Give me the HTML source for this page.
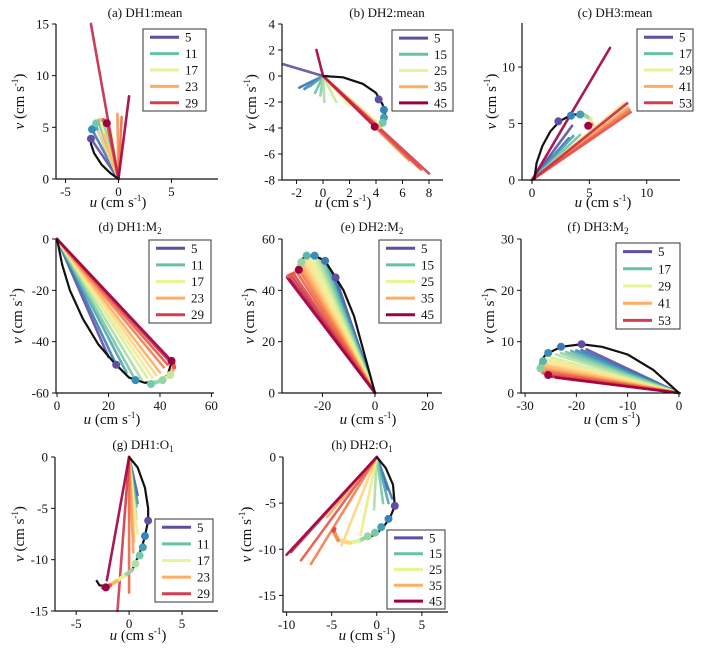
<!DOCTYPE html>
<html><head><meta charset="utf-8">
<style>
html,body{margin:0;padding:0;background:#fff;}
svg{display:block;font-family:"Liberation Serif",serif;}
</style></head>
<body>
<svg id="fig" width="715" height="653" viewBox="0 0 715 653" xmlns="http://www.w3.org/2000/svg"></svg>
<script>
// ---------- data ----------
const aTipU=[-2.6,-2.5,-2.2,-1.9,-1.5,-1.0,-0.7,-1.6,-1.9,-1.4,-0.1,0.3,-1.1,-2.6,1.0];
const aTipV=[3.9,4.8,5.3,5.6,5.7,5.2,4.6,5.2,4.6,4.3,6.3,6.0,5.4,15,8];
const aCurve=[[0,0],[-0.8,0.6],[-1.6,1.4],[-2.3,2.5],[-2.6,3.4],[-2.6,3.9]];
const aTrail=[[-2.6,4.8],[-2.2,5.4],[-1.8,5.7],[-1.4,5.7],[-1.1,5.4]];
const aDots=[[-2.6,3.9,0],[-2.5,4.8,0.12],[-2.1,5.4,0.25],[-1.1,5.4,1]];
const aLegend=["5","11","17","23","29"];

const bTipU=[-3,-1.8,-1.4,-1.0,-0.6,-0.2,0.1,1.0,2.0,3.3,4.0,4.3,6.2,6.5,7.2,7.4,8.0,3.9,-0.5];
const bTipV=[0.9,-0.9,-1.0,-0.8,-1.3,-1.5,-2.0,-2.0,-2.3,-3.0,-3.5,-3.9,-6.2,-6.5,-7.0,-7.2,-7.5,-3.9,2.0];
const bCurve=[[0,0],[1.5,-0.1],[3,-0.6],[4,-1.3],[4.5,-2.2],[4.7,-3.0]];
const bTrail=[[4.6,-3.2],[4.5,-3.6],[4.3,-3.9],[4.0,-4.0],[3.9,-3.9]];
const bDots=[[4.2,-1.8,0],[4.6,-2.6,0.1],[4.6,-3.2,0.15],[4.5,-3.6,0.25],[3.9,-3.9,1]];
const bLegend=["5","15","25","35","45"];

const cTipU=[3.5,3.2,3.6,4.2,5.5,6.5,7.5,8.0,8.3,8.4,8.5,8.6,8.3,6.8];
const cTipV=[4.8,3.7,3.9,4.0,4.5,5.3,6.2,6.8,6.7,6.4,6.2,6.0,6.8,11.7];
const cCurve=[[0.2,0],[0.4,1.5],[0.9,3],[1.6,4.3],[2.4,5.2],[3.5,5.8],[4.5,5.8]];
const cTrail=[[4.5,5.8],[5.1,5.4],[5.2,4.9],[4.9,4.8]];
const cDots=[[2.3,5.2,0],[3.4,5.7,0.1],[4.2,5.8,0.15],[4.9,4.8,1]];
const cLegend=["5","17","29","41","53"];

const dTipU=[20,23,27,30.5,33,35,37,38.5,40,41.5,43,44,44.5];
const dTipV=[-46,-49,-52,-55,-55,-54,-54,-53,-52,-50,-49,-48,-47.5];
const dCurve=[[0,0],[2,-10],[5,-20],[10,-31],[16,-41],[22,-48],[28,-54],[34,-56],[40,-55.5],[43,-53],[44.5,-48]];
const dTrail=[[36.5,-56.5],[41,-55],[44,-53],[45.5,-50],[45,-47.5]];
const dDots=[[23,-49,0],[30.5,-55,0.12],[36.5,-56.5,0.25],[41,-55,0.3],[44,-53,0.38],[44.5,-47.5,1]];
const dLegend=["5","11","17","23","29"];

const eTipU=[-15,-16,-17,-18,-19,-20,-21,-22,-23,-24,-25,-26,-27,-28,-28.5,-29,-29.5,-30,-31,-32,-33,-33.5];
const eTipV=[45,46.5,48,49.5,51,52,52.5,53,53.5,53.5,53.5,53,52.5,52,51,50,49,47.5,46.5,46,45.5,45];
const eCurve=[[0,0],[-4,15],[-8,30],[-12,40],[-15,45],[-19,51.5],[-23,53.5],[-26,53.5],[-28,52],[-29,50],[-29,48]];
const eTrail=[[-28,51],[-29,49],[-30,47.5],[-31,46.5],[-33,45.5]];
const eDots=[[-15,45,0],[-19,51.5,0.08],[-23,53.5,0.12],[-26,53.5,0.2],[-28,51,0.3],[-29,48,1]];
const eLegend=["5","15","25","35","45"];

const fTipU=[-18,-19,-20,-21,-22,-23,-24,-25,-25.5,-26,-26.5,-26.5,-26.5,-26,-25.5,-25.5,-25,-24];
const fTipV=[8.5,8.4,8.3,8.2,8,7.8,7.5,7,6.6,6.3,5.8,5.3,4.8,4.3,3.9,3.5,3.2,3.0];
const fCurve=[[0,0],[-5,4.5],[-10,7.5],[-15,9],[-19,9.5],[-23,9],[-26,7.5],[-27,6],[-27,4.5],[-26,3.5]];
const fTrail=[[-26.5,6.2],[-27,4.8],[-26.5,4],[-25.5,3.5]];
const fDots=[[-19,9.5,0],[-23,9,0.08],[-25.5,7.8,0.12],[-26.5,6.2,0.2],[-27,4.8,0.28],[-25.5,3.5,1]];
const fLegend=["5","17","29","41","53"];

const gTipU=[0.8,0.8,0.7,0.7,0.6,0.8,0.5,0.4,0.0,-1.1,-2.1];
const gTipV=[-3.7,-4.5,-4.8,-6.0,-6.5,-7.5,-8.3,-9.3,-13.2,-15,-12];
const gCurve=[[0,0],[0.8,-1],[1.5,-3],[1.8,-5],[1.8,-6.2],[1.5,-7.7],[1.2,-8.8],[0.8,-9.8],[0.3,-11],[-1,-12],[-2,-12.6],[-2.8,-12.5],[-3.1,-12]];
const gTrail=[[0.3,-11],[-0.5,-11.6],[-1.2,-12.1],[-1.8,-12.5],[-2.5,-12.7]];
const gDots=[[1.8,-6.2,0],[1.5,-7.7,0.1],[1.3,-8.8,0.15],[1.0,-9.6,0.25],[0.6,-10.4,0.35],[-2.2,-12.7,1]];
const gLegend=["5","11","17","23","29"];

const hTipU=[1.2,1.7,1.3,0.7,-0.3,-1.5,-1.8,-3.9,-5.5,-7.3,-8.4,-9.5,-10];
const hTipV=[-3.5,-4.5,-5.0,-5.0,-5.7,-7.0,-8.5,-9.6,-6.5,-11.6,-11.2,-10.3,-10.6];
const hCurve=[[0,0],[1,-1.2],[1.8,-3],[2,-5.3],[1.5,-6.5],[0.8,-7.5],[0,-8.3],[-1,-8.8]];
const hTrail=[[-1,-8.6],[-2,-9.1],[-3,-9.3],[-4.3,-9],[-4.8,-8],[-4.7,-7.8]];
const hDots=[[2,-5.3,0],[1.3,-6.7,0.1],[0.5,-7.6,0.15],[-0.2,-8.2,0.25],[-1,-8.6,0.3]];
const hLegend=["5","15","25","35","45"];

// ---------- rendering ----------
const NS="http://www.w3.org/2000/svg";
const svg=document.getElementById('fig');
const STOPS=['#5e4fa2','#3288bd','#66c2a5','#abdda4','#e6f598','#fee08b','#fdae61','#f46d43','#d53e4f','#9e0142'];
function hex(c){return [1,3,5].map(i=>parseInt(c.substr(i,2),16));}
function cmap(t){t=Math.max(0,Math.min(1,t));const p=t*(STOPS.length-1);const i=Math.min(Math.floor(p),STOPS.length-2);const f=p-i;const a=hex(STOPS[i]),b=hex(STOPS[i+1]);return 'rgb('+a.map((v,k)=>Math.round(v+(b[k]-v)*f)).join(',')+')';}
function mk(tag,attrs,parent){const e=document.createElementNS(NS,tag);for(const k in attrs)e.setAttribute(k,attrs[k]);(parent||svg).appendChild(e);return e;}

function panel(cfg){
  const g=mk('g',{});
  
  
  const sx=u=>cfg.L+(u-cfg.x0)/(cfg.x1-cfg.x0)*(cfg.R-cfg.L);
  const sy=v=>cfg.B-(v-cfg.y0)/(cfg.y1-cfg.y0)*(cfg.B-cfg.T);
  // title
  const t=mk('text',{x:cfg.tx,y:cfg.ty,'text-anchor':'middle','font-size':13,fill:'#111'},g);
  
  
  t.innerHTML=cfg.title;
  // fan lines
  const n=cfg.tu.length;
  for(let i=0;i<n;i++){
    const ln=mk('line',{x1:sx(0),y1:sy(0),x2:sx(cfg.tu[i]),y2:sy(cfg.tv[i]),stroke:cmap(n>1?i/(n-1):0),'stroke-width':2.6,'stroke-opacity':0.9,'stroke-linecap':'round'},g);
    
    
  }
  // black curve
  const pc=mk('polyline',{points:cfg.curve.map(p=>sx(p[0])+','+sy(p[1])).join(' '),fill:'none',stroke:'#111','stroke-width':2.2,'stroke-linejoin':'round'},g);
  
  
  // colored trail
  for(let i=0;i<cfg.trail.length-1;i++){
    const a=cfg.trail[i],b=cfg.trail[i+1];
    const tr=mk('line',{x1:sx(a[0]),y1:sy(a[1]),x2:sx(b[0]),y2:sy(b[1]),stroke:cmap(0.3+0.7*i/(cfg.trail.length-1)),'stroke-width':4,'stroke-linecap':'round'},g);
    
    
  }
  // dots
  cfg.dots.forEach(d=>{
    const c=mk('circle',{cx:sx(d[0]),cy:sy(d[1]),r:4,fill:cmap(d[2])},g);
    
    
  });
  // axes
  const ax=mk('path',{d:`M${cfg.L},${cfg.T}V${cfg.B}H${cfg.R}`,fill:'none',stroke:'#111','stroke-width':1.2},g);
  
  
  cfg.xt.forEach(v=>{
    const x=sx(v);
    const tk=mk('line',{x1:x,y1:cfg.B,x2:x,y2:cfg.B+4,stroke:'#111'},g);
    
    
    const tl=mk('text',{x:x,y:cfg.B+17,'text-anchor':'middle','font-size':13,fill:'#111'},g);
    
    
    tl.textContent=v;
  });
  cfg.yt.forEach(v=>{
    const y=sy(v);
    const tk=mk('line',{x1:cfg.L-4,y1:y,x2:cfg.L,y2:y,stroke:'#111'},g);
    
    
    const tl=mk('text',{x:cfg.L-7,y:y+4.5,'text-anchor':'end','font-size':13,fill:'#111'},g);
    
    
    tl.textContent=v;
  });
  const xl=mk('text',{x:cfg.xlx,y:cfg.xly,'text-anchor':'middle','font-size':15,fill:'#111'},g);
  
  
  xl.innerHTML='<tspan font-style="italic">u</tspan> (cm s<tspan dy="-6" font-size="9">-1</tspan><tspan dy="6">)</tspan>';
  const yl=mk('text',{x:0,y:0,'text-anchor':'middle','font-size':15,fill:'#111',transform:`translate(${cfg.ylx},${(cfg.T+cfg.B)/2}) rotate(-90)`},g);
  
  
  yl.innerHTML='<tspan font-style="italic">v</tspan> (cm s<tspan dy="-6" font-size="9">-1</tspan><tspan dy="6">)</tspan>';
  // legend
  const lg=mk('g',{},g);
  
  
  const [lx0,ly0,lx1,ly1]=cfg.leg;
  mk('rect',{x:lx0,y:ly0,width:lx1-lx0,height:ly1-ly0,fill:'#fff',stroke:'#333','stroke-width':1},lg);
  const cols=['#5e4fa2','#66c2a5','#e6f598','#fdae61',cfg.last];
  const step=(ly1-ly0)/5;
  cfg.legend.forEach((lab,i)=>{
    const y=ly0+step*(i+0.5);
    const e=mk('g',{},lg);
    
    
    mk('line',{x1:lx0+7,y1:y,x2:lx0+36,y2:y,stroke:cols[i],'stroke-width':3},e);
    const tx=mk('text',{x:lx0+42,y:y+4.5,'font-size':13,fill:'#111'},e);
    tx.textContent=lab;
  });
}

const M2='M<tspan font-size="9" dy="3">2</tspan>';
const O1='O<tspan font-size="9" dy="3">1</tspan>';
panel({id:'a',L:56,R:218,T:24,B:179,x0:-5.9,x1:9.4,y0:0,y1:15,xt:[-5,0,5],yt:[0,5,10,15],tu:aTipU,tv:aTipV,curve:aCurve,trail:aTrail,dots:aDots,legend:aLegend,last:'#d53e4f',leg:[143,29,206,111],title:'(a) DH1:mean',tx:145,ty:17,xlx:118,xly:207,ylx:24});
panel({id:'b',L:282,R:443,T:24,B:180,x0:-3.1,x1:9.06,y0:-8,y1:4,xt:[-2,0,2,4,6,8],yt:[-8,-6,-4,-2,0,2,4],tu:bTipU,tv:bTipV,curve:bCurve,trail:bTrail,dots:bDots,legend:bLegend,last:'#9e0142',leg:[392,30,453,111],title:'(b) DH2:mean',tx:387,ty:17,xlx:343,xly:207,ylx:256});
panel({id:'c',L:522,R:680,T:23,B:180,x0:-0.87,x1:12.9,y0:0,y1:13.9,xt:[0,5,10],yt:[0,5,10],tu:cTipU,tv:cTipV,curve:cCurve,trail:cTrail,dots:cDots,legend:cLegend,last:'#d53e4f',leg:[637,29,693,111],title:'(c) DH3:mean',tx:615,ty:17,xlx:603,xly:207,ylx:496});
panel({id:'d',L:56,R:214,T:239,B:393,x0:-0.4,x1:61,y0:-60,y1:0,xt:[0,20,40,60],yt:[0,-20,-40,-60],tu:dTipU,tv:dTipV,curve:dCurve,trail:dTrail,dots:dDots,legend:dLegend,last:'#d53e4f',leg:[149,240,211,323],title:'(d) DH1:'+M2,tx:130,ty:231,xlx:112,xly:424,ylx:22});
panel({id:'e',L:282,R:442,T:239,B:393,x0:-35.4,x1:25.5,y0:0,y1:60,xt:[-20,0,20],yt:[0,20,40,60],tu:eTipU,tv:eTipV,curve:eCurve,trail:eTrail,dots:eDots,legend:eLegend,last:'#9e0142',leg:[379,240,441,323],title:'(e) DH2:'+M2,tx:372,ty:231,xlx:368,xly:424,ylx:254});
panel({id:'f',L:521,R:681,T:239,B:393,x0:-30.8,x1:0.4,y0:0,y1:30,xt:[-30,-20,-10,0],yt:[0,10,20,30],tu:fTipU,tv:fTipV,curve:fCurve,trail:fTrail,dots:fDots,legend:fLegend,last:'#d53e4f',leg:[616,243,680,329],title:'(f) DH3:'+M2,tx:598,ty:231,xlx:612,xly:424,ylx:494});
panel({id:'g',L:55,R:218,T:457,B:611,x0:-7,x1:8.4,y0:-15,y1:0,xt:[-5,0,5],yt:[0,-5,-10,-15],tu:gTipU,tv:gTipV,curve:gCurve,trail:gTrail,dots:gDots,legend:gLegend,last:'#d53e4f',leg:[155,519,213,602],title:'(g) DH1:'+O1,tx:143,ty:449,xlx:138,xly:640,ylx:24});
panel({id:'h',L:283,R:448,T:457,B:612,x0:-10.4,x1:7.9,y0:-16.8,y1:0,xt:[-10,-5,0,5],yt:[0,-5,-10,-15],tu:hTipU,tv:hTipV,curve:hCurve,trail:hTrail,dots:hDots,legend:hLegend,last:'#9e0142',leg:[387,530,445,609],title:'(h) DH2:'+O1,tx:362,ty:449,xlx:367,xly:640,ylx:251});
</script>
</body></html>
